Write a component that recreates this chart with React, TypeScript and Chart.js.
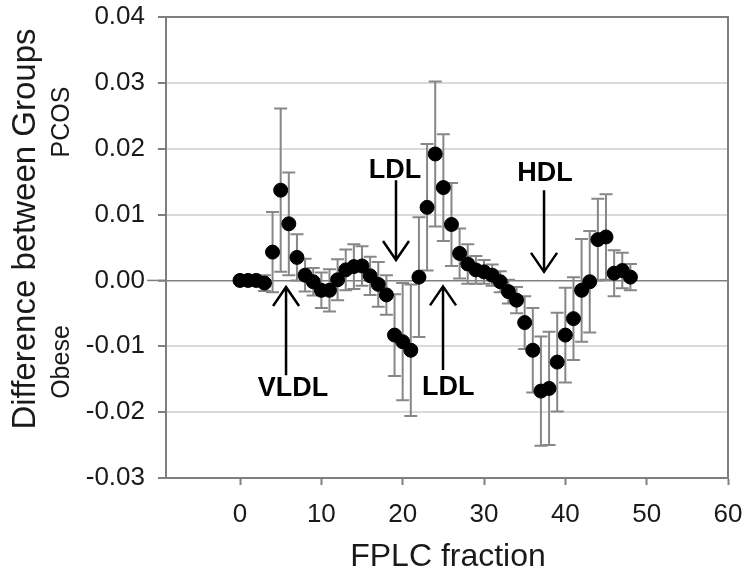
import React, { useEffect, useRef } from "react";
import { Chart, registerables } from "chart.js";

Chart.register(...registerables);

// ---- data ----
const fractions: number[] = [
  0, 1, 2, 3, 4, 5, 6, 7, 8, 9, 10, 11, 12, 13, 14, 15, 16, 17, 18, 19, 20, 21, 22, 23, 24,
  25, 26, 27, 28, 29, 30, 31, 32, 33, 34, 35, 36, 37, 38, 39, 40, 41, 42, 43, 44, 45, 46, 47, 48,
];
const differences: number[] = [
  0.0, 0.0, 0.0, -0.0004, 0.0043, 0.0137, 0.0086, 0.0035, 0.0008, -0.0002, -0.0015, -0.0015,
  0.0001, 0.0016, 0.0021, 0.0022, 0.0007, -0.0006, -0.0022, -0.0083, -0.0093, -0.0106, 0.0005,
  0.0111, 0.0192, 0.0141, 0.0085, 0.0041, 0.0025, 0.0016, 0.0013, 0.0008, -0.0002, -0.0017,
  -0.003, -0.0064, -0.0106, -0.0168, -0.0164, -0.0124, -0.0083, -0.0058, -0.0015, -0.0002,
  0.0062, 0.0066, 0.0011, 0.0015, 0.0005,
];
const errors: number[] = [
  0.0003, 0.0003, 0.0004, 0.0012, 0.0061, 0.0124, 0.0078, 0.0035, 0.0025, 0.0021, 0.0027, 0.0032,
  0.0031, 0.0031, 0.0034, 0.003, 0.0029, 0.0034, 0.003, 0.0062, 0.0089, 0.01, 0.0091, 0.0096,
  0.011, 0.0081, 0.0063, 0.0038, 0.003, 0.0021, 0.0018, 0.0016, 0.0016, 0.0018, 0.002, 0.004,
  0.0064, 0.0083, 0.0086, 0.0075, 0.0072, 0.0063, 0.0078, 0.0077, 0.0062, 0.0065, 0.0035, 0.0027,
  0.002,
];
const xTickValues: number[] = [0, 10, 20, 30, 40, 50, 60];
const yTickValues: number[] = [-0.03, -0.02, -0.01, 0, 0.01, 0.02, 0.03, 0.04];

// annotations (label, arrow x, arrow tip y, arrow tail y, text x, text y) in data units
const annLabels: string[] = ["VLDL", "LDL", "LDL", "HDL"];
const annArrowX: number[] = [5.66, 19.18, 24.96, 37.38];
const annTipY: number[] = [-0.001, 0.0031, -0.0009, 0.0013];
const annTailY: number[] = [-0.0144, 0.0152, -0.0136, 0.0137];
const annTextX: number[] = [6.5, 19.06, 25.6, 37.5];
const annTextY: number[] = [-0.0164, 0.0167, -0.0163, 0.0163];

const FONT = "'Liberation Sans', Arial, Helvetica, sans-serif";
const AXIS_COLOR = "#7f7f7f";

const framePlugin = {
  id: "frameAndExtras",
  beforeDatasetsDraw(chart: any) {
    const { ctx, scales } = chart;
    const xs = scales.x;
    const ys = scales.y;
    ctx.save();
    // error bars
    ctx.strokeStyle = "#878787";
    ctx.lineWidth = 2;
    for (let i = 0; i < fractions.length; i++) {
      const px = xs.getPixelForValue(fractions[i]);
      const yt = ys.getPixelForValue(differences[i] + errors[i]);
      const yb = ys.getPixelForValue(differences[i] - errors[i]);
      ctx.beginPath();
      ctx.moveTo(px, yt);
      ctx.lineTo(px, yb);
      ctx.moveTo(px - 6.5, yt);
      ctx.lineTo(px + 6.5, yt);
      ctx.moveTo(px - 6.5, yb);
      ctx.lineTo(px + 6.5, yb);
      ctx.stroke();
    }
    ctx.restore();
  },
  afterDraw(chart: any) {
    const { ctx, chartArea, scales } = chart;
    const xs = scales.x;
    const ys = scales.y;
    ctx.save();
    // top and right frame
    ctx.strokeStyle = AXIS_COLOR;
    ctx.lineWidth = 2;
    ctx.beginPath();
    ctx.moveTo(chartArea.left, chartArea.top);
    ctx.lineTo(chartArea.right, chartArea.top);
    ctx.lineTo(chartArea.right, chartArea.bottom);
    ctx.stroke();
    // zero line extension to the label
    const y0 = ys.getPixelForValue(0);
    ctx.lineWidth = 1.5;
    ctx.beginPath();
    ctx.moveTo(147, y0);
    ctx.lineTo(chartArea.left, y0);
    ctx.stroke();

    // annotations
    ctx.strokeStyle = "#000";
    ctx.fillStyle = "#000";
    ctx.lineWidth = 2.5;
    ctx.font = `bold 27px ${FONT}`;
    ctx.textAlign = "center";
    ctx.textBaseline = "middle";
    for (let i = 0; i < annLabels.length; i++) {
      const ax = xs.getPixelForValue(annArrowX[i]);
      const tip = ys.getPixelForValue(annTipY[i]);
      const tail = ys.getPixelForValue(annTailY[i]);
      const dir = tail > tip ? 1 : -1;
      ctx.beginPath();
      ctx.moveTo(ax, tail);
      ctx.lineTo(ax, tip);
      ctx.moveTo(ax - 13, tip + dir * 19);
      ctx.lineTo(ax, tip);
      ctx.lineTo(ax + 13, tip + dir * 19);
      ctx.stroke();
      ctx.fillText(annLabels[i], xs.getPixelForValue(annTextX[i]), ys.getPixelForValue(annTextY[i]));
    }

    // y titles
    ctx.fillStyle = "#1a1a1a";
    ctx.font = `33px ${FONT}`;
    ctx.translate(26, 229);
    ctx.rotate(-Math.PI / 2);
    ctx.fillText("Difference between Groups", 0, 0);
    ctx.restore();

    ctx.save();
    ctx.fillStyle = "#1a1a1a";
    ctx.font = `25px ${FONT}`;
    ctx.textAlign = "center";
    ctx.textBaseline = "middle";
    ctx.translate(62, 122);
    ctx.rotate(-Math.PI / 2);
    ctx.fillText("PCOS", 0, 0);
    ctx.restore();

    ctx.save();
    ctx.fillStyle = "#1a1a1a";
    ctx.font = `25px ${FONT}`;
    ctx.textAlign = "center";
    ctx.textBaseline = "middle";
    ctx.translate(62, 362);
    ctx.rotate(-Math.PI / 2);
    ctx.fillText("Obese", 0, 0);
    ctx.restore();

    // x title
    ctx.save();
    ctx.fillStyle = "#1a1a1a";
    ctx.font = `32px ${FONT}`;
    ctx.textAlign = "center";
    ctx.textBaseline = "middle";
    ctx.fillText("FPLC fraction", 448, 557);
    ctx.restore();
  },
};

export default function App() {
  const canvasRef = useRef<HTMLCanvasElement | null>(null);

  useEffect(() => {
    document.body.style.margin = "0";
    const canvas = canvasRef.current;
    if (!canvas) return;
    const zeroPad = (scale: any) => {
      scale.paddingTop = 0;
      scale.paddingBottom = 0;
      scale.paddingLeft = 0;
      scale.paddingRight = 0;
    };
    const chart = new Chart(canvas, {
      type: "scatter",
      data: {
        datasets: [
          {
            data: fractions.map((f, i) => ({ x: f, y: differences[i] })),
            backgroundColor: "#000",
            borderColor: "#000",
            pointRadius: 7,
            pointHoverRadius: 7,
            showLine: false,
          },
        ],
      },
      options: {
        responsive: false,
        devicePixelRatio: 1,
        animation: false,
        events: [],
        layout: { padding: { left: 0, right: 22, top: 17, bottom: 0 } },
        plugins: {
          legend: { display: false },
          tooltip: { enabled: false },
          title: { display: false },
        },
        scales: {
          x: {
            type: "linear",
            min: -9.1,
            max: 60,
            afterBuildTicks: (scale: any) => {
              scale.ticks = xTickValues.map((v) => ({ value: v }));
            },
            afterFit: (scale: any) => {
              scale.height = 102;
              zeroPad(scale);
            },
            grid: {
              drawOnChartArea: false,
              drawTicks: true,
              tickLength: 7,
              tickColor: AXIS_COLOR,
              tickWidth: 2,
            },
            border: { display: true, color: AXIS_COLOR, width: 2 },
            ticks: {
              padding: 14,
              color: "#1a1a1a",
              font: { family: FONT, size: 26 },
              maxRotation: 0,
              callback: (v: any) => String(v),
            },
          },
          y: {
            type: "linear",
            min: -0.03,
            max: 0.04,
            afterBuildTicks: (scale: any) => {
              scale.ticks = yTickValues.map((v) => ({ value: v }));
            },
            afterFit: (scale: any) => {
              scale.width = 166;
              zeroPad(scale);
            },
            grid: {
              color: (c: any) => {
                const v = c.tick ? c.tick.value : 1;
                if (Math.abs(v) < 1e-9) return "#808080";
                if (v > 0.0395 || v < -0.0295) return "rgba(0,0,0,0)";
                return "#dadada";
              },
              lineWidth: (c: any) => {
                const v = c.tick ? c.tick.value : 1;
                return Math.abs(v) < 1e-9 ? 1.5 : 2;
              },
              drawTicks: true,
              tickLength: 8,
              tickColor: AXIS_COLOR,
              tickWidth: 2,
            },
            border: { display: true, color: AXIS_COLOR, width: 2 },
            ticks: {
              padding: 13,
              color: "#1a1a1a",
              font: { family: FONT, size: 26 },
              callback: (v: any) => Number(v).toFixed(2),
            },
          },
        },
      },
      plugins: [framePlugin],
    });
    return () => chart.destroy();
  }, []);

  return (
    <div style={{ width: 750, height: 580 }}>
      <canvas ref={canvasRef} width={750} height={580} style={{ display: "block" }} />
    </div>
  );
}
